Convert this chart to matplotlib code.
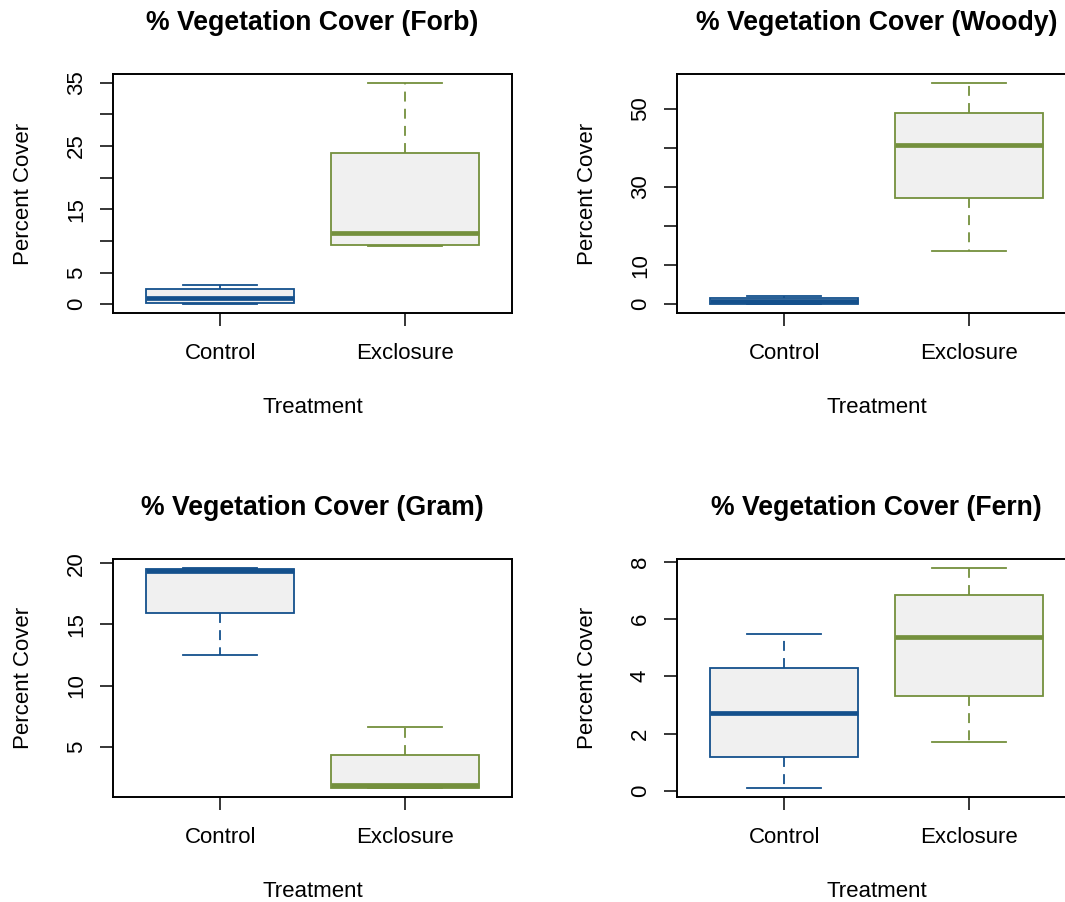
import matplotlib
matplotlib.use("Agg")
import matplotlib.pyplot as plt

plt.rcParams['font.family'] = ['Liberation Sans', 'DejaVu Sans']

groups = ['Control', 'Exclosure']
colors = ['#14508C', '#74903D']
fill = '#F0F0F0'

# five-number summaries per panel, [Control, Exclosure]
forb_lo = [0.0, 9.2]
forb_q1 = [0.16, 9.4]
forb_med = [0.95, 11.2]
forb_q3 = [2.37, 23.9]
forb_hi = [3.1, 35.0]

woody_lo = [0.0, 13.7]
woody_q1 = [0.1, 27.1]
woody_med = [0.7, 40.9]
woody_q3 = [1.5, 49.1]
woody_hi = [2.1, 56.7]

gram_lo = [12.5, 1.6]
gram_q1 = [15.96, 1.62]
gram_med = [19.35, 1.85]
gram_q3 = [19.55, 4.34]
gram_hi = [19.64, 6.6]

fern_lo = [0.09, 1.71]
fern_q1 = [1.19, 3.30]
fern_med = [2.70, 5.39]
fern_q3 = [4.30, 6.85]
fern_hi = [5.49, 7.79]

forb_ticks = [0, 5, 10, 15, 20, 25, 30, 35]
forb_labels = ['0', '5', '', '15', '', '25', '', '35']
woody_ticks = [0, 10, 20, 30, 40, 50]
woody_labels = ['0', '10', '', '30', '', '50']
gram_ticks = [5, 10, 15, 20]
gram_labels = ['5', '10', '15', '20']
fern_ticks = [0, 2, 4, 6, 8]
fern_labels = ['0', '2', '4', '6', '8']

W, H = 1065, 902
fig = plt.figure(figsize=(W / 100, H / 100), dpi=100)


def draw(rect, title, lo, q1, med, q3, hi, ticks, labels):
    ax = fig.add_axes(rect)
    stats = [dict(whislo=lo[i], q1=q1[i], med=med[i], q3=q3[i], whishi=hi[i],
                  label=groups[i]) for i in range(2)]
    bp = ax.bxp(stats, positions=[1, 2], widths=0.8, capwidths=0.4,
                patch_artist=True, showfliers=False)
    for i, c in enumerate(colors):
        bp['boxes'][i].set(facecolor=fill, edgecolor=c, linewidth=1.3)
        bp['medians'][i].set(color=c, linewidth=3.4, solid_capstyle='butt')
        for w in bp['whiskers'][2 * i:2 * i + 2]:
            w.set(color=c, linewidth=1.3, linestyle=(0, (5.5, 4)))
        for cp in bp['caps'][2 * i:2 * i + 2]:
            cp.set(color=c, linewidth=1.3)

    # R style 4% padding around the data range
    ymin, ymax = min(lo), max(hi)
    pad = 0.04 * (ymax - ymin)
    ax.set_ylim(ymin - pad, ymax + pad)
    ax.set_xlim(0.42, 2.58)

    ax.set_xticks([1, 2])
    ax.set_xticklabels(groups, fontsize=16)
    ax.set_yticks(ticks)
    ax.set_yticklabels(labels, fontsize=16, rotation=90, va='center')
    ax.tick_params(axis='both', length=9.4, width=1.1, color='black')
    ax.tick_params(axis='x', pad=12)
    ax.tick_params(axis='y', pad=9.5)
    for s in ax.spines.values():
        s.set_linewidth(1.4)

    ax.set_title(title, fontsize=19.2, fontweight='bold', pad=32)
    ax.set_xlabel('Treatment', fontsize=16, va='center')
    ax.xaxis.set_label_coords(0.5, -0.397)
    ax.set_ylabel('Percent Cover', fontsize=16, va='center')
    ax.yaxis.set_label_coords(-0.225, 0.5)
    return ax


aw, ah_top, ah_bot = 399 / W, 239 / H, 238 / H
draw([113 / W, (H - 313) / H, aw, ah_top], '% Vegetation Cover (Forb)',
     forb_lo, forb_q1, forb_med, forb_q3, forb_hi, forb_ticks, forb_labels)
draw([677 / W, (H - 313) / H, aw, ah_top], '% Vegetation Cover (Woody)',
     woody_lo, woody_q1, woody_med, woody_q3, woody_hi, woody_ticks, woody_labels)
draw([113 / W, (H - 797) / H, aw, ah_bot], '% Vegetation Cover (Gram)',
     gram_lo, gram_q1, gram_med, gram_q3, gram_hi, gram_ticks, gram_labels)
draw([677 / W, (H - 797) / H, aw, ah_bot], '% Vegetation Cover (Fern)',
     fern_lo, fern_q1, fern_med, fern_q3, fern_hi, fern_ticks, fern_labels)

fig.savefig('out.png', dpi=100)
